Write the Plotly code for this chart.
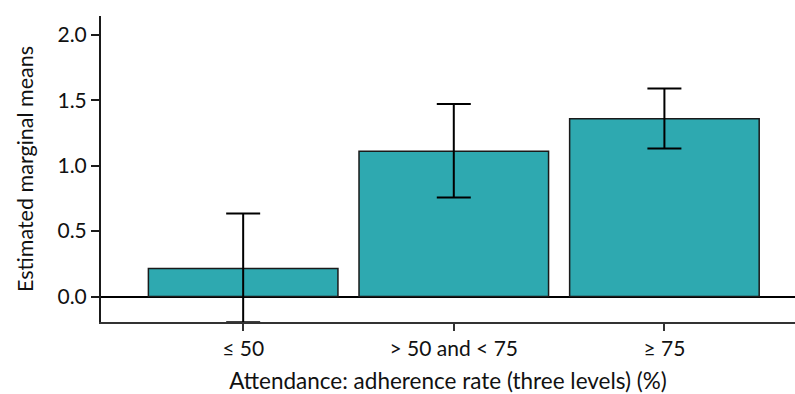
import plotly.graph_objects as go

# Estimated marginal means by attendance level, with 95% CI bounds
categories = ["≤ 50", "> 50 and < 75", "≥ 75"]
means = [0.214, 1.111, 1.358]
ci_upper = [0.635, 1.470, 1.590]
ci_lower = [-0.195, 0.757, 1.131]

err_plus = [u - m for u, m in zip(ci_upper, means)]
err_minus = [m - l for m, l in zip(means, ci_lower)]

font_family = "Lato, 'Open Sans', sans-serif"

fig = go.Figure(
    go.Bar(
        x=categories,
        y=means,
        width=0.9,
        marker=dict(color="#2EA9B0", line=dict(color="#1a1a1a", width=1.5)),
        error_y=dict(
            type="data",
            symmetric=False,
            array=err_plus,
            arrayminus=err_minus,
            color="black",
            thickness=2,
            width=17,
        ),
    )
)

fig.update_layout(
    width=795,
    height=394,
    margin=dict(l=101, r=0, t=16, b=72),
    plot_bgcolor="white",
    paper_bgcolor="white",
    showlegend=False,
    font=dict(family=font_family, size=21, color="#111111"),
)

fig.update_xaxes(
    type="category",
    range=[-0.675, 2.62],
    showline=True,
    linecolor="#333333",
    linewidth=1.5,
    ticks="outside",
    ticklen=7,
    tickwidth=1.5,
    tickcolor="#333333",
    showgrid=False,
    tickfont=dict(size=21),
    title=dict(text="Attendance: adherence rate (three levels) (%)", font=dict(size=22.5), standoff=14),
)

fig.update_yaxes(
    range=[-0.194, 2.143],
    tickvals=[0, 0.5, 1.0, 1.5, 2.0],
    tickformat=".1f",
    showline=True,
    linecolor="#1a1a1a",
    linewidth=2,
    ticks="outside",
    ticklen=8,
    tickwidth=1.5,
    tickcolor="#1a1a1a",
    showgrid=False,
    zeroline=True,
    zerolinecolor="black",
    zerolinewidth=2,
    tickfont=dict(size=21),
    title=dict(text="Estimated marginal means", font=dict(size=21.5), standoff=18),
)

fig.write_html("out.html")
